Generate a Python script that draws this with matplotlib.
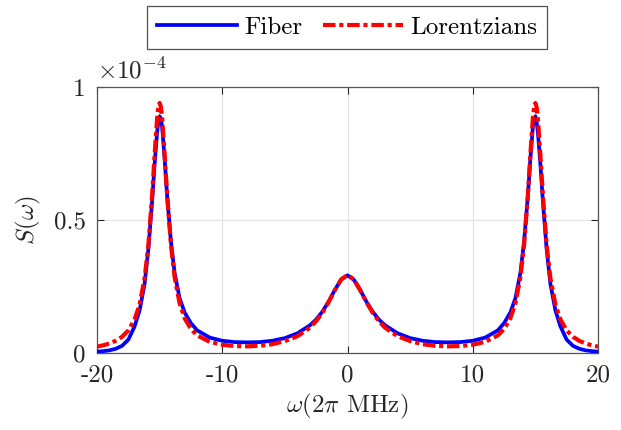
import matplotlib
matplotlib.use("Agg")
import matplotlib.pyplot as plt
import numpy as np

plt.rcParams['font.family'] = 'serif'
plt.rcParams['font.serif'] = ['cmr10', 'DejaVu Serif']
plt.rcParams['mathtext.fontset'] = 'cm'
plt.rcParams['axes.unicode_minus'] = False

# frequency (2*pi MHz)
omega = [-20, -19.5, -19, -18.5, -18, -17.5, -17, -16.6, -16.2, -15.9, -15.6, -15.4,
         -15.2, -15.1, -15.0, -14.9, -14.8, -14.6, -14.4, -14.1, -13.8, -13.4, -13,
         -12.5, -12, -11, -10, -9, -8, -7, -6, -5, -4, -3, -2.5, -2, -1.5, -1, -0.5,
         0,
         0.5, 1, 1.5, 2, 2.5, 3, 4, 5, 6, 7, 8, 9, 10, 11, 12, 12.5, 13, 13.4, 13.8,
         14.1, 14.4, 14.6, 14.8, 14.9, 15.0, 15.1, 15.2, 15.4, 15.6, 15.9, 16.2, 16.6,
         17, 17.5, 18, 18.5, 19, 19.5, 20]

# S(omega) in units of 1e-4
fiber = [0.005, 0.007, 0.010, 0.016, 0.027, 0.050, 0.100, 0.160, 0.260, 0.390, 0.570, 0.710,
         0.830, 0.870, 0.890, 0.880, 0.850, 0.730, 0.590, 0.420, 0.300, 0.205, 0.152,
         0.112, 0.085, 0.058, 0.046, 0.041, 0.040, 0.041, 0.046, 0.056, 0.074, 0.104, 0.126, 0.156, 0.194, 0.238, 0.276,
         0.292,
         0.276, 0.238, 0.194, 0.156, 0.126, 0.104, 0.074, 0.056, 0.046, 0.041, 0.040, 0.041, 0.046, 0.058, 0.085, 0.112, 0.152, 0.205, 0.300,
         0.420, 0.590, 0.730, 0.850, 0.880, 0.890, 0.870, 0.830, 0.710, 0.570, 0.390, 0.260, 0.160,
         0.100, 0.050, 0.027, 0.016, 0.010, 0.007, 0.005]

lorentz = [0.024, 0.029, 0.036, 0.046, 0.061, 0.085, 0.126, 0.182, 0.281, 0.405, 0.592, 0.745,
           0.882, 0.925, 0.940, 0.925, 0.883, 0.746, 0.593, 0.407, 0.284, 0.186, 0.130,
           0.090, 0.066, 0.042, 0.031, 0.026, 0.025, 0.027, 0.033, 0.045, 0.063, 0.095, 0.120, 0.152, 0.192, 0.237, 0.277,
           0.293,
           0.277, 0.237, 0.192, 0.152, 0.120, 0.095, 0.063, 0.045, 0.033, 0.027, 0.025, 0.026, 0.031, 0.042, 0.066,
           0.090, 0.130, 0.186, 0.284, 0.407, 0.593, 0.746, 0.883, 0.925, 0.940, 0.925, 0.882, 0.745, 0.592, 0.405, 0.281, 0.182,
           0.126, 0.085, 0.061, 0.046, 0.036, 0.029, 0.024]

xticks = [-20, -10, 0, 10, 20]
xticklabels = ['-20', '-10', '0', '10', '20']
yticks = [0, 0.5, 1]
yticklabels = ['0', '0.5', '1']
scale = 1e-4

fig = plt.figure(figsize=(6.21, 4.30), dpi=100)
ax = fig.add_axes([97/621, 77/430, 501/621, 266/430])

axcol = '#262626'
y_f = np.array(fiber) * scale
y_l = np.array(lorentz) * scale
ax.plot(omega, y_f, color=(0, 0, 1), lw=2.7, label='Fiber', zorder=3,
        solid_joinstyle='round')
ax.plot(omega, y_l, color=(1, 0, 0), lw=3.0, dashes=(3.0, 0.9, 1.0, 0.9),
        label='Lorentzians', zorder=4)

ax.set_xlim(-20, 20)
ax.set_ylim(0, 1e-4)
ax.set_xticks(xticks)
ax.set_xticklabels(xticklabels)
ax.set_yticks([v * scale for v in yticks])
ax.set_yticklabels(yticklabels)
ax.tick_params(direction='in', length=5, width=0.8, colors=axcol, labelsize=18,
               top=True, right=True, pad=8)
for s in ax.spines.values():
    s.set_color('#555555')
    s.set_linewidth(0.9)
ax.grid(True, color='#e3e3e3', lw=0.8)
ax.set_axisbelow(True)

ax.set_xlabel(r'$\omega(2\pi$ MHz$)$', fontsize=18, color=axcol, labelpad=4)
ax.set_ylabel(r'$S(\omega)$', fontsize=18, color=axcol, labelpad=8)
ax.text(0.0, 1.015, r'$\times10^{-4}$', transform=ax.transAxes, fontsize=18,
        color=axcol, ha='left', va='bottom')

leg = fig.legend(loc='center', bbox_to_anchor=(347/621, 1 - 27.5/430), ncol=2,
                 fontsize=18, frameon=True, fancybox=False, edgecolor='#262626',
                 handlelength=3.2, handletextpad=0.3, columnspacing=0.8,
                 borderpad=0.4, borderaxespad=0)
leg.get_frame().set_linewidth(0.9)

fig.savefig('out.png', dpi=100)
